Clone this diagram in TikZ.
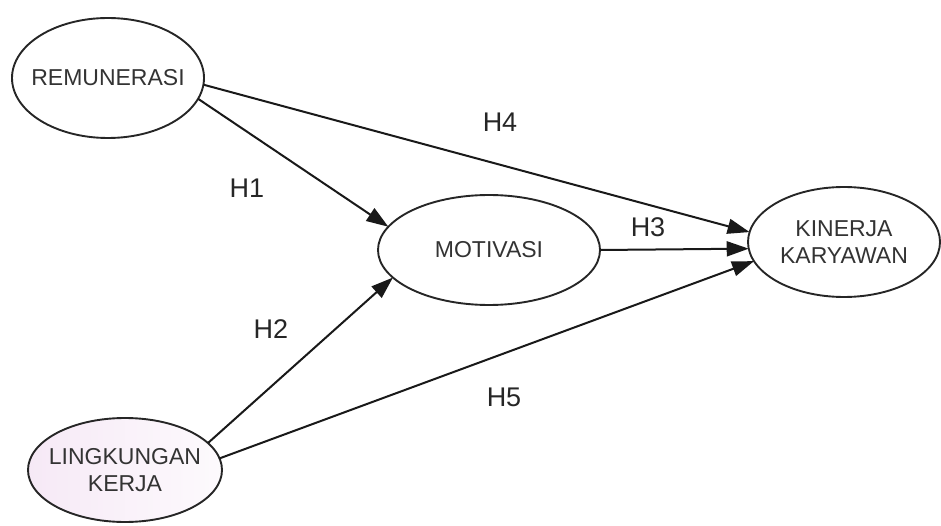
\documentclass[tikz,border=0pt]{standalone}
\usepackage{fontspec}
\setmainfont{Liberation Sans}
\usetikzlibrary{shapes.geometric,arrows.meta}
\begin{document}
\begin{tikzpicture}[x=1pt,y=1pt,
  ell/.style={ellipse,draw=black!85,line width=1.9pt,inner sep=0pt,outer sep=0pt},
  txt/.style={align=center,font=\fontsize{23}{26.5}\selectfont,text=black!80},
  hlab/.style={font=\fontsize{27}{30}\selectfont,text=black!85},
  conn/.style={draw=black!90,line width=2pt,-{Triangle[length=22pt,width=15pt]}}]
\useasboundingbox (0,0) rectangle (941,525);
\node[ell,minimum width=192pt,minimum height=120pt] (rem) at (108,447) {};
\node[ell,minimum width=222pt,minimum height=110pt] (mot) at (489,275) {};
\node[ell,minimum width=192pt,minimum height=110pt] (kin) at (844,283) {};
\node[ell,minimum width=194pt,minimum height=104pt,
  left color={rgb,255:red,246;green,233;blue,246},right color={rgb,255:red,253;green,250;blue,253}] (ling) at (125,55) {};
\node[txt] (remt) at (rem.center) {REMUNERASI};
\node[txt] (mott) at (mot.center) {MOTIVASI};
\node[txt] (kint) at (kin.center) {KINERJA\\KARYAWAN};
\node[txt] (lingt) at (ling.center) {LINGKUNGAN\\KERJA};
\draw[conn] (rem.-13.7) -- (mot.167.7);
\draw[conn] (rem.-4.2) -- (kin.174);
\draw[conn] (mot.0) -- (kin.184.8);
\draw[conn] (ling.18.6) -- (mot.196.9);
\draw[conn] (ling.7.4) -- (kin.192.6);
\node[hlab] (h4) at (500,403) {H4};
\node[hlab] (h1) at (247,337) {H1};
\node[hlab] (h3) at (648,298) {H3};
\node[hlab] (h2) at (271,196) {H2};
\node[hlab] (h5) at (504,128) {H5};
\end{tikzpicture}
\end{document}
